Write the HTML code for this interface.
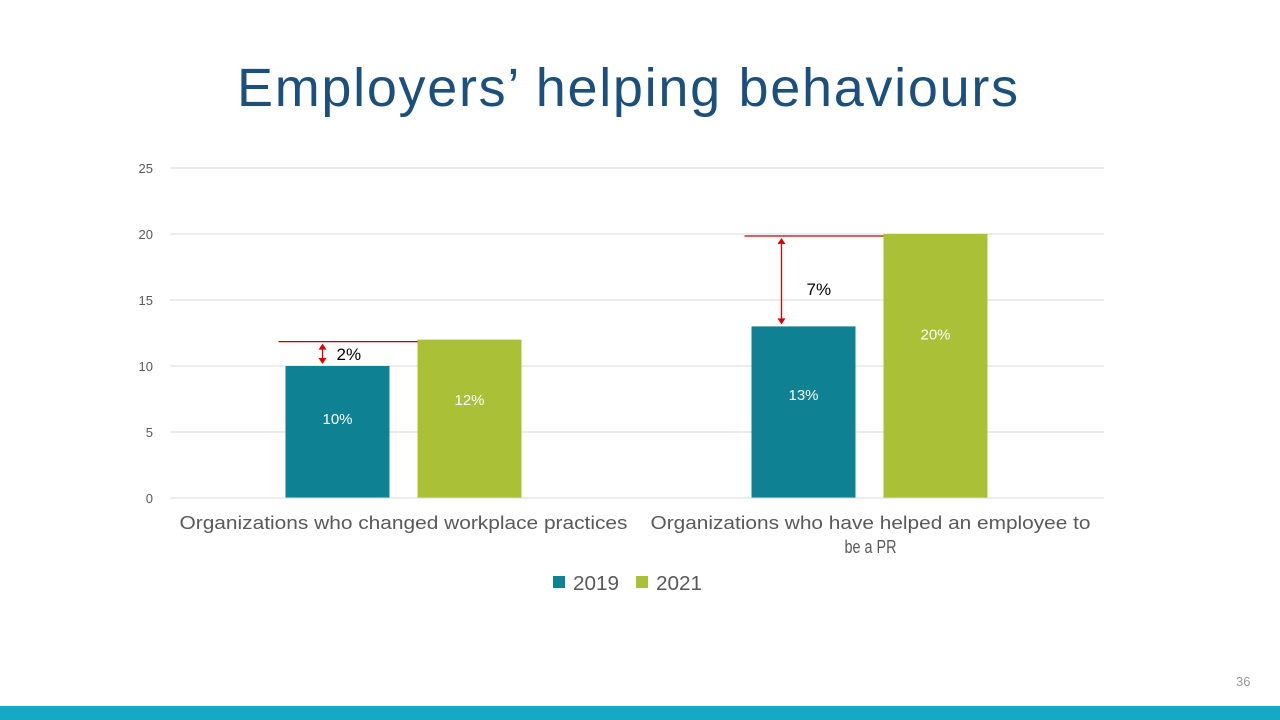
<!DOCTYPE html>
<html><head><meta charset="utf-8"><style>
body{margin:0;width:1280px;height:720px;background:#fff;overflow:hidden;font-family:"Liberation Sans",sans-serif;position:relative}
</style></head><body>
<div style="position:absolute;left:237px;width:781px;top:57px;text-align:center;font-size:54px;letter-spacing:1.7px;white-space:nowrap;color:#1b4f7e">Employers’ helping behaviours</div>
<svg id="c" width="1280" height="720" style="position:absolute;left:0;top:0"></svg>
<div style="position:absolute;left:1236px;top:674px;font-size:13px;color:#999">36</div>
<div style="position:absolute;left:0;top:706px;width:1280px;height:14px;background:#16a9c3"></div>
<script>
const categories=["Organizations who changed workplace practices","Organizations who have helped an employee to|be a PR"];
const series2019=[10,13];
const series2021=[12,20];
const labels2019=["10%","13%"];
const labels2021=["12%","20%"];
const yTicks=[0,5,10,15,20,25];
const diffLabels=["2%","7%"];
const NS="http://www.w3.org/2000/svg",svg=document.getElementById('c');
const x0=170,x1=1104,yb=498,yt=168,ymax=25;
const y=v=>yb-(yb-yt)*v/ymax;
const catW=(x1-x0)/categories.length;
function el(t,a,txt){const e=document.createElementNS(NS,t);for(const k in a)e.setAttribute(k,a[k]);if(txt!==undefined)e.textContent=txt;svg.appendChild(e);return e;}
yTicks.forEach(t=>{
 const g=el('line',{x1:x0,x2:x1,y1:y(t),y2:y(t),stroke:'#d9d9d9','stroke-width':1});
 
 
 const l=el('text',{x:153,y:y(t)+5,'text-anchor':'end','font-size':13,fill:'#595959'},t);
 
 
});
const bw=104;
const lineW=[[448],[440,52]];
categories.forEach((c,i)=>{
 const cx=x0+catW*(i+0.5);
 const xa=cx-118-(i?1:0),xb=cx+14-(i?1:0);
 const b1=el('rect',{x:xa,y:y(series2019[i]),width:bw,height:yb-y(series2019[i]),fill:'#0e8193'});
 
 
 const b2=el('rect',{x:xb,y:y(series2021[i]),width:bw,height:yb-y(series2021[i]),fill:'#a9c037'});
 
 
 const t1=el('text',{x:xa+bw/2,y:y(series2019[i])+(yb-y(series2019[i]))*0.4+5,'text-anchor':'middle','font-size':15,fill:'#fff'},labels2019[i]);
 
 
 const t2=el('text',{x:xb+bw/2,y:y(series2021[i])+(yb-y(series2021[i]))*0.38+5,'text-anchor':'middle','font-size':15,fill:'#fff'},labels2021[i]);
 
 
 const ytop=y(series2021[i])+2,ybot=y(series2019[i]);
 const ax=i===0?xa+37:xa+30;
 const rl=el('line',{x1:xa-7,x2:xb,y1:ytop,y2:ytop,stroke:'#c00000','stroke-width':1.3});
 
 
 const ar=el('line',{x1:ax,x2:ax,y1:ytop+3,y2:ybot-3,stroke:'#e00000','stroke-width':1.3});
 
 
 el('path',{d:`M${ax-4},${ytop+8}L${ax},${ytop+2}L${ax+4},${ytop+8}Z M${ax-4},${ybot-8}L${ax},${ybot-2}L${ax+4},${ybot-8}Z`,fill:'#e00000'});
 const dl=el('text',{x:i===0?ax+14:ax+25,y:i===0?(ytop+ybot)/2+6:(ytop+ybot)/2+14,'font-size':17,fill:'#000'},diffLabels[i]);
 
 
 c.split('|').forEach((ln,k)=>{
  const cl=el('text',{x:cx,y:529+k*24,'text-anchor':'middle','font-size':18,fill:'#595959',textLength:lineW[i][k],lengthAdjust:'spacingAndGlyphs'},ln);
  
  
 });
});
const axl=el('line',{x1:x0,x2:x1,y1:yb,y2:yb,stroke:'#d9d9d9'});


[["2019",'#0e8193',553],["2021",'#a9c037',636]].forEach(([n,col,lx])=>{
 const r=el('rect',{x:lx,y:576,width:12,height:12,fill:col});
 
 
 const t=el('text',{x:lx+20,y:590,'font-size':20,fill:'#595959',textLength:46,lengthAdjust:'spacingAndGlyphs'},n);
 
 
});
</script>
</body></html>
